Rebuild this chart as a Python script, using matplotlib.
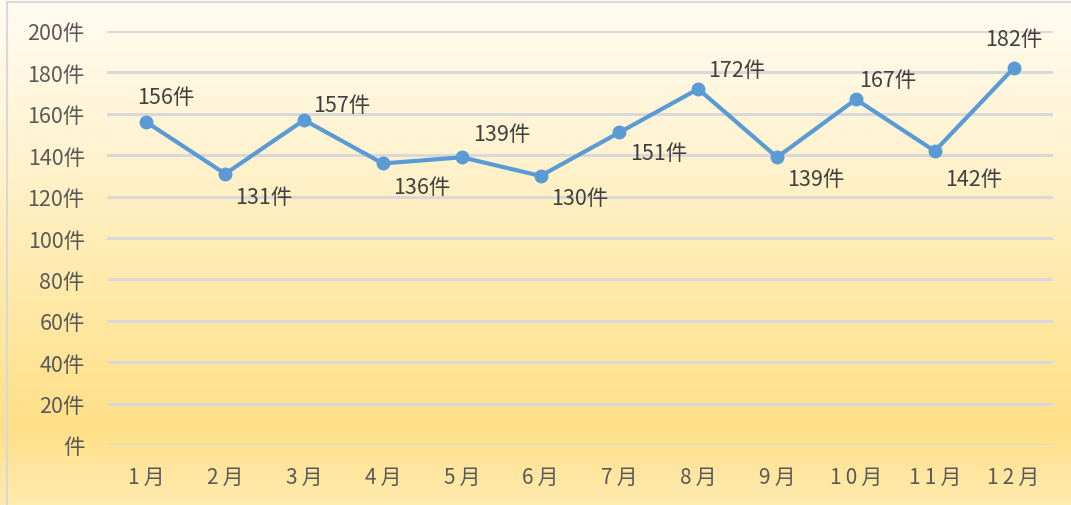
import numpy as np
import matplotlib
matplotlib.use('Agg')
import matplotlib.pyplot as plt
from matplotlib.colors import LinearSegmentedColormap
from matplotlib.patches import Rectangle

plt.rcParams['font.family'] = ['Noto Sans CJK JP', 'DejaVu Sans']

# data
months = ['1月', '2月', '3月', '4月', '5月', '6月',
          '7月', '8月', '9月', '10月', '11月', '12月']
counts = [156, 131, 157, 136, 139, 130, 151, 172, 139, 167, 142, 182]
y_ticks = [0, 20, 40, 60, 80, 100, 120, 140, 160, 180, 200]

# label offsets in points (dx, dy) relative to each marker
label_offsets = [(14, 18), (28, -17), (27, 11), (28, -17), (29, 17), (28, -16),
                 (28, -15), (28, 14), (28, -16), (23, 14), (28, -20), (0, 21)]

W, H = 1071, 506
fig = plt.figure(figsize=(W / 100, H / 100), dpi=100)

# background gradient
bg = fig.add_axes([0, 0, 1, 1], zorder=-10)
stops = [(0.0, '#fffcf2'), (0.3, '#fff3d0'), (0.6, '#ffe9a6'),
         (0.85, '#ffe088'), (1.0, '#ffebb0')]
cmap = LinearSegmentedColormap.from_list('bg', stops)
grad = np.linspace(0, 1, 256).reshape(-1, 1)
bg.imshow(grad, aspect='auto', cmap=cmap, extent=[0, 1, 1, 0])
bg.add_patch(Rectangle((7 / W, -0.1), 1.2, 1 - 3 / H + 0.1, fill=False,
                       edgecolor='#d9d9d9', linewidth=1.5, transform=bg.transAxes))
bg.set_xlim(0, 1)
bg.set_ylim(1, 0)
bg.axis('off')

ax = fig.add_axes([107 / W, 1 - 446 / H, (1053 - 107) / W, (446 - 32) / H])
ax.set_facecolor('none')

x = np.arange(len(months))
ax.plot(x, counts, color='#5b9bd5', linewidth=3, marker='o', markersize=9,
        solid_capstyle='round', zorder=3)

for xi, v, (dx, dy) in zip(x, counts, label_offsets):
    ax.annotate(f'{v}件', (xi, v), xytext=(dx, dy), textcoords='offset points',
                ha='center', va='center', fontsize=15.5, color='#404040', zorder=4)

ax.set_xlim(-0.5, len(months) - 0.5)
ax.set_ylim(0, 200)
ax.set_yticks(y_ticks)
ax.set_yticklabels([f'{t}件' if t else '件' for t in y_ticks])
ax.set_xticks(x)
# the month labels are drawn letter-spaced, as in the source
ax.set_xticklabels(['\u2009'.join(m) for m in months])
ax.tick_params(axis='y', length=0, labelsize=15.5, colors='#595959', pad=16)
ax.tick_params(axis='x', length=0, labelsize=15, colors='#595959', pad=15)
ax.grid(axis='y', color='#d9d9d9', linewidth=2.2)
ax.set_axisbelow(True)
for s in ax.spines.values():
    s.set_visible(False)

fig.savefig('out.png', dpi=100)
